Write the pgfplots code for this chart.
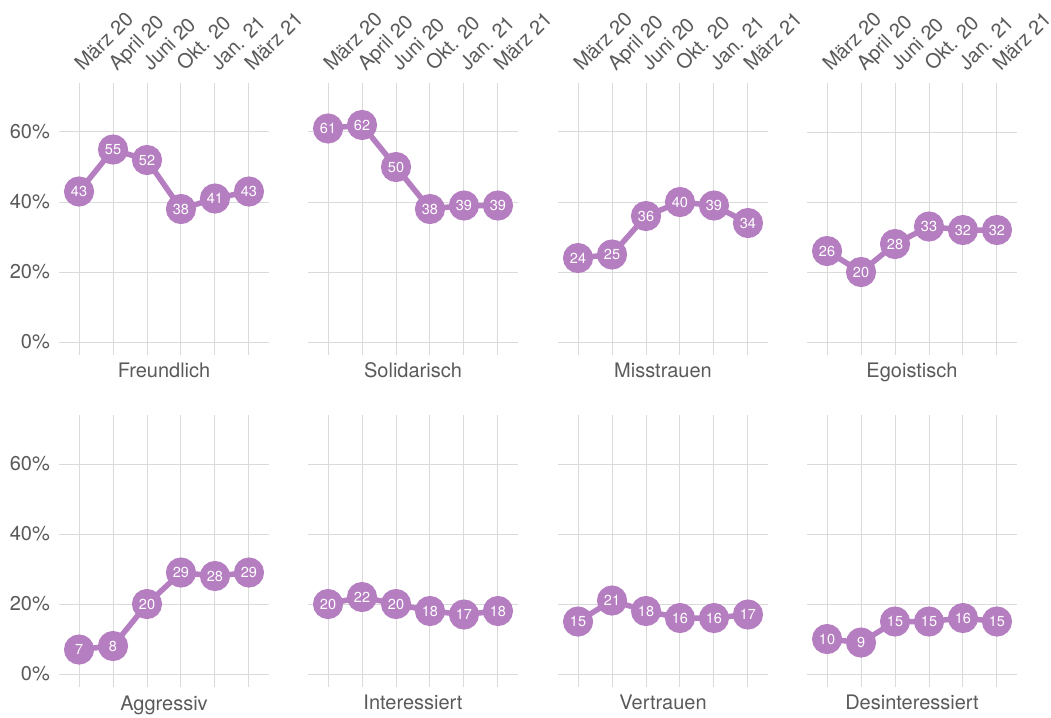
\documentclass[border=0pt]{standalone}
\usepackage{fontspec}
\setmainfont{TeX Gyre Heros}
\usepackage{pgfplots}
\pgfplotsset{compat=1.18}
\definecolor{lila}{RGB}{181,126,192}
\definecolor{gridc}{RGB}{218,218,218}
\definecolor{txt}{RGB}{90,90,90}
\pgfplotsset{
 panel/.style={
  scale only axis, width=210bp, height=272bp, anchor=south west,
  xmin=-0.59, xmax=5.59, ymin=-3.7, ymax=74,
  axis line style={draw=none},
  major tick length=0pt,
  xtick={0,...,5}, ytick={0,20,40,60},
  grid=major, major grid style={gridc, line width=1bp},
  xticklabels={}, yticklabels={},
  clip=false,
  every axis x label/.style={at={(axis description cs:0.5,0)}, anchor=base, yshift=-23bp, font=\fontsize{20bp}{24bp}\selectfont, text=txt},
  /pgf/number format/assume math mode=true,
  nodes near coords,
  every node near coord/.append style={anchor=center, text=white, font=\fontsize{14.5bp}{17bp}\selectfont, inner sep=0pt},
 },
 ylab/.style={yticklabels={0\%,20\%,40\%,60\%}, yticklabel style={anchor=east, inner sep=0pt, xshift=-9bp, font=\fontsize{20bp}{24bp}\selectfont, text=txt}},
 xlab/.style={xticklabel pos=right, xticklabels={März 20,April 20,Juni 20,Okt. 20,Jan. 21,März 21}, xticklabel style={xshift=4bp, rotate=45, anchor=base west, inner sep=0pt, font=\fontsize{20bp}{24bp}\selectfont, text=txt}, xticklabel shift=11bp},
 ser/.style={lila, line width=5.5bp, mark=*, mark size=12.3bp, mark options={fill=lila, draw=none}},
}
\begin{document}
\begin{tikzpicture}
\path[use as bounding box] (0,0) rectangle (1051bp,718bp);
% row 1
\begin{axis}[panel, ylab, xlab, at={(59bp,363bp)}, xlabel={Freundlich}]
\addplot[ser] coordinates {(0,43) (1,55) (2,52) (3,38) (4,41) (5,43)};
\end{axis}
\begin{axis}[panel, xlab, at={(308bp,363bp)}, xlabel={Solidarisch}]
\addplot[ser] coordinates {(0,61) (1,62) (2,50) (3,38) (4,39) (5,39)};
\end{axis}
\begin{axis}[panel, xlab, at={(558bp,363bp)}, xlabel={Misstrauen}]
\addplot[ser] coordinates {(0,24) (1,25) (2,36) (3,40) (4,39) (5,34)};
\end{axis}
\begin{axis}[panel, xlab, at={(807bp,363bp)}, xlabel={Egoistisch}]
\addplot[ser] coordinates {(0,26) (1,20) (2,28) (3,33) (4,32) (5,32)};
\end{axis}
% row 2
\begin{axis}[panel, ylab, at={(59bp,31bp)}, xlabel={Aggressiv}]
\addplot[ser] coordinates {(0,7) (1,8) (2,20) (3,29) (4,28) (5,29)};
\end{axis}
\begin{axis}[panel, at={(308bp,31bp)}, xlabel={Interessiert}]
\addplot[ser] coordinates {(0,20) (1,22) (2,20) (3,18) (4,17) (5,18)};
\end{axis}
\begin{axis}[panel, at={(558bp,31bp)}, xlabel={Vertrauen}]
\addplot[ser] coordinates {(0,15) (1,21) (2,18) (3,16) (4,16) (5,17)};
\end{axis}
\begin{axis}[panel, at={(807bp,31bp)}, xlabel={Desinteressiert}]
\addplot[ser] coordinates {(0,10) (1,9) (2,15) (3,15) (4,16) (5,15)};
\end{axis}
\end{tikzpicture}
\end{document}
